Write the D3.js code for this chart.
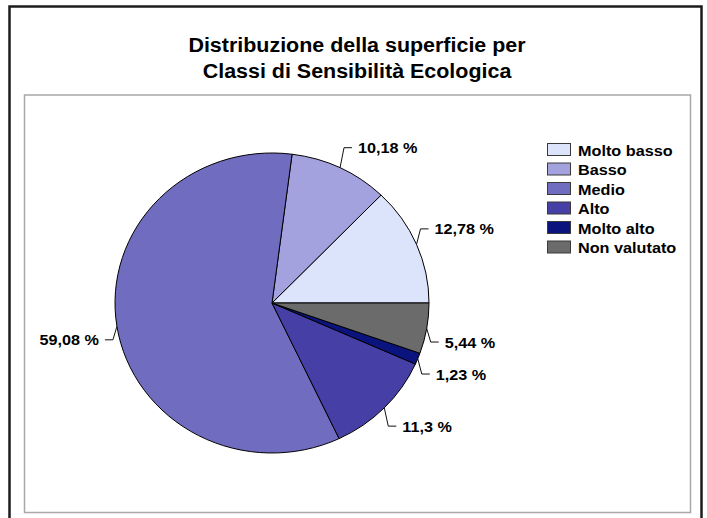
<!DOCTYPE html>
<html lang="it">
<head>
    <meta charset="UTF-8">
    <title>Distribuzione della superficie per Classi di Sensibilità Ecologica</title>
    <script src="https://d3js.org/d3.v7.min.js"></script>
    <style>
        body {
            margin: 0;
            padding: 0;
            background-color: #fff;
        }
        svg text {
            font-family: "Liberation Sans", Arial, sans-serif;
            font-weight: bold;
            fill: #000;
        }
    </style>
</head>
<body>
    <div id="chart"></div>

    <script>
        // Data
        const titleLines = ["Distribuzione della superficie per", "Classi di Sensibilità Ecologica"];
        const categories = ["Molto basso", "Basso", "Medio", "Alto", "Molto alto", "Non valutato"];
        const values = [12.78, 10.18, 59.08, 11.3, 1.23, 5.44];
        const colors = ["#dce4fc", "#a3a2df", "#706dc1", "#463fa6", "#0b147e", "#6b6b6b"];

        const W = 707, H = 518;
        const sx = 157 / 150;           // the original picture is slightly stretched sideways
        const cx = 272, cy = 303, r = 150;
        const rx = r * sx, ry = r;

        const svg = d3.select("#chart").append("svg")
            .attr("width", W)
            .attr("height", H);

        // outer frame + plot area
        svg.append("rect")
            .attr("x", 9.5).attr("y", 6.5)
            .attr("width", 692).attr("height", 530)
            .attr("fill", "#fff")
            .attr("stroke", "#1c1c1c")
            .attr("stroke-width", 2.5);

        svg.append("rect")
            .attr("x", 24.5).attr("y", 95)
            .attr("width", 666).attr("height", 417.5)
            .attr("fill", "#fff")
            .attr("stroke", "#a8a8a8")
            .attr("stroke-width", 1.5);

        // text helper: stretched like the rest of the picture
        const addText = (x, y, str, size, anchor) => svg.append("text")
            .attr("transform", `translate(${x},${y}) scale(${sx},1)`)
            .attr("text-anchor", anchor || "start")
            .style("font-size", size + "px")
            .text(str);

        titleLines.forEach((t, i) => addText(357, 52 + i * 26, t, 20.5, "middle"));

        // pie, counter-clockwise from 3 o'clock
        const pie = d3.pie()
            .sort(null)
            .value(d => d)
            .startAngle(Math.PI / 2)
            .endAngle(Math.PI / 2 - 2 * Math.PI);

        const arcs = pie(values);
        const arc = d3.arc().innerRadius(0).outerRadius(r);

        const pieG = svg.append("g")
            .attr("transform", `translate(${cx},${cy}) scale(${sx},1)`);

        pieG.selectAll("path")
            .data(arcs)
            .join("path")
            .attr("d", arc)
            .attr("fill", (d, i) => colors[i])
            .attr("stroke", "#000")
            .attr("stroke-width", 1)
            .attr("vector-effect", "non-scaling-stroke");

        // leader lines + labels
        const ell = (a, k) => [cx + rx * k * Math.sin(a), cy - ry * k * Math.cos(a)];
        const fmt = v => String(v).replace(".", ",") + " %";

        arcs.forEach((d, i) => {
            const mid = (d.startAngle + d.endAngle) / 2;
            const s = Math.sin(mid) >= 0 ? 1 : -1;
            const c = Math.cos(mid);
            const p0 = ell(mid, 1);
            const p1 = [p0[0] + s * 4, p0[1] - Math.sign(c) * (12 + 9 * Math.abs(c))];
            const p2 = [p1[0] + s * 8, p1[1]];

            svg.append("path")
                .attr("d", d3.line()([p0, p1, p2]))
                .attr("fill", "none")
                .attr("stroke", "#111")
                .attr("stroke-width", 1);

            addText(p2[0] + s * 6, p2[1] + 5.5, fmt(values[i]), 15.5, s > 0 ? "start" : "end");
        });

        // legend
        const legend = svg.append("g");
        categories.forEach((name, i) => {
            const y = 143 + i * 19.5;
            legend.append("rect")
                .attr("x", 547.5).attr("y", y + 0.5)
                .attr("width", 23).attr("height", 12)
                .attr("fill", colors[i])
                .attr("stroke", "#3a3a3a")
                .attr("stroke-width", 1);
            addText(578, y + 12.5, name, 15.5);
        });
    </script>
</body>
</html>
